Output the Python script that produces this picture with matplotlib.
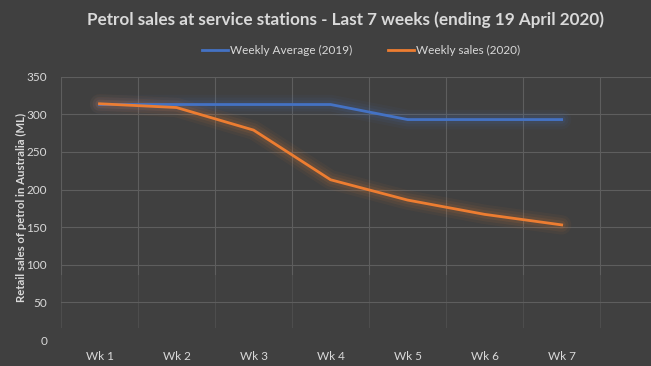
import matplotlib
matplotlib.use("Agg")
import matplotlib.pyplot as plt

semanas = ["Wk 1", "Wk 2", "Wk 3", "Wk 4", "Wk 5", "Wk 6", "Wk 7"]
promedio_2019 = [313, 313, 313, 313, 293, 293, 293]
ventas_2020 = [314, 309, 279, 213, 186, 167, 153]

fondo = "#404040"
texto = "#d9d9d9"
azul = "#4472C4"
naranja = "#ED7D31"

plt.rcParams["font.family"] = ["Lato", "DejaVu Sans"]

fig = plt.figure(figsize=(6.51, 3.66), dpi=100, facecolor=fondo)
ax = fig.add_axes([0.0937, 0.071, 0.9063, 0.7195], facecolor=fondo)

x = list(range(len(semanas)))

# halo suave debajo de cada línea
for serie, color in ((promedio_2019, azul), (ventas_2020, naranja)):
    for ancho, alfa in ((14, 0.05), (10, 0.07), (6, 0.10)):
        ax.plot(x, serie, color=color, lw=ancho, alpha=alfa,
                solid_capstyle="round", solid_joinstyle="round", zorder=2)

ax.plot(x, promedio_2019, color=azul, lw=2, label="Weekly Average (2019)", zorder=3)
ax.plot(x, ventas_2020, color=naranja, lw=2, label="Weekly sales (2020)", zorder=3)

ax.set_xticks(x)
ax.set_xticklabels(semanas)
ax.set_yticks(range(0, 351, 50))
ax.set_xlim(-0.5, 7.16)
ax.set_ylim(0, 350)

# rejilla: las verticales se apagan hacia abajo como en Excel
for v in range(50, 351, 50):
    ax.axhline(v, color="#5e5e5e", lw=0.8, zorder=1)
for i in range(-1, 8):
    ax.axvline(i + 0.5, ymin=0.25, color="#5e5e5e", lw=0.8, zorder=1)
    ax.axvline(i + 0.5, ymin=0.05, ymax=0.25, color="#5e5e5e", lw=0.8, alpha=0.45, zorder=1)

for lado in ax.spines.values():
    lado.set_visible(False)
ax.tick_params(which="both", length=0, colors=texto, labelsize=8.5)
ax.tick_params(axis="y", pad=10)
ax.tick_params(axis="x", pad=8)

ax.set_ylabel("Retail sales of petrol in Australia (ML)", color=texto,
              fontsize=8.2, fontweight="bold")
ax.yaxis.set_label_coords(-0.058, 0.504)

fig.suptitle("Petrol sales at service stations - Last 7 weeks (ending 19 April 2020)",
             color=texto, fontsize=12.3, fontweight="bold", x=0.53, y=0.97)

leg = fig.legend(loc="center", bbox_to_anchor=(0.555, 0.863), ncol=2, frameon=False,
                 fontsize=8.5, handlelength=2.2, handletextpad=0.2, columnspacing=3)
for t in leg.get_texts():
    t.set_color(texto)

fig.savefig("out.png", dpi=100, facecolor=fondo)
